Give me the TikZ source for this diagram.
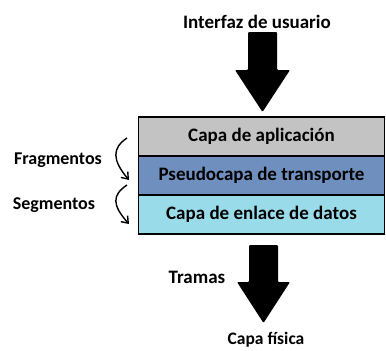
\documentclass[tikz,border=0pt]{standalone}
\usepackage{fontspec}
\setmainfont{Carlito}
\usepackage{xcolor}
\usepackage{tikz}
\usetikzlibrary{arrows.meta}

\definecolor{grisapp}{HTML}{C3C3C3}
\definecolor{azulpseudo}{HTML}{6F8FBF}
\definecolor{celeste}{HTML}{99DBE9}

\begin{document}
\begin{tikzpicture}[x=1pt,y=-1pt,
    capa/.style={draw=black, line width=1.3pt, minimum width=246pt, minimum height=39pt,
                 inner sep=0pt, font=\bfseries\fontsize{19}{21}\selectfont},
    etiqueta/.style={font=\bfseries\fontsize{19}{21}\selectfont, inner sep=0pt},
    flechita/.style={-{Straight Barb[length=6pt,width=9pt]}, line width=1.4pt}]

\useasboundingbox (0,0) rectangle (386,351);

% Layers
\node[capa, fill=grisapp] (app) at (261.5,136.5) {Capa de aplicación};
\node[capa, fill=azulpseudo] (pseudo) at (261.5,175.5) {Pseudocapa de transporte};
\node[capa, fill=celeste] (enlace) at (261.5,214.5) {Capa de enlace de datos};

% Top and bottom labels
\node[etiqueta] (interfaz) at (257,22) {Interfaz de usuario};
\node[etiqueta, font=\bfseries\fontsize{17.5}{20}\selectfont] (fisica) at (266,340) {Capa física};
\node[etiqueta] (tramas) at (197,277) {Tramas};

% Side labels
\node[etiqueta, font=\bfseries\fontsize{18}{20}\selectfont] (frag) at (58,160) {Fragmentos};
\node[etiqueta, font=\bfseries\fontsize{18}{20}\selectfont] (seg) at (54,205) {Segmentos};

% Big arrows
\fill[rounded corners=1pt] (248,32) -- (277,32) -- (277,70) -- (290,70) -- (262.5,112)
    -- (235,70) -- (248,70) -- cycle;
\fill[rounded corners=1pt] (249,245) -- (278,245) -- (278,282) -- (290,282) -- (263.5,323)
    -- (237,282) -- (249,282) -- cycle;

% Curved arrows
\draw[flechita] (127,138) .. controls (112,148) and (112,160) .. (129,180);
\draw[flechita] (127,185) .. controls (112,195) and (112,205) .. (129,224);

\end{tikzpicture}
\end{document}
